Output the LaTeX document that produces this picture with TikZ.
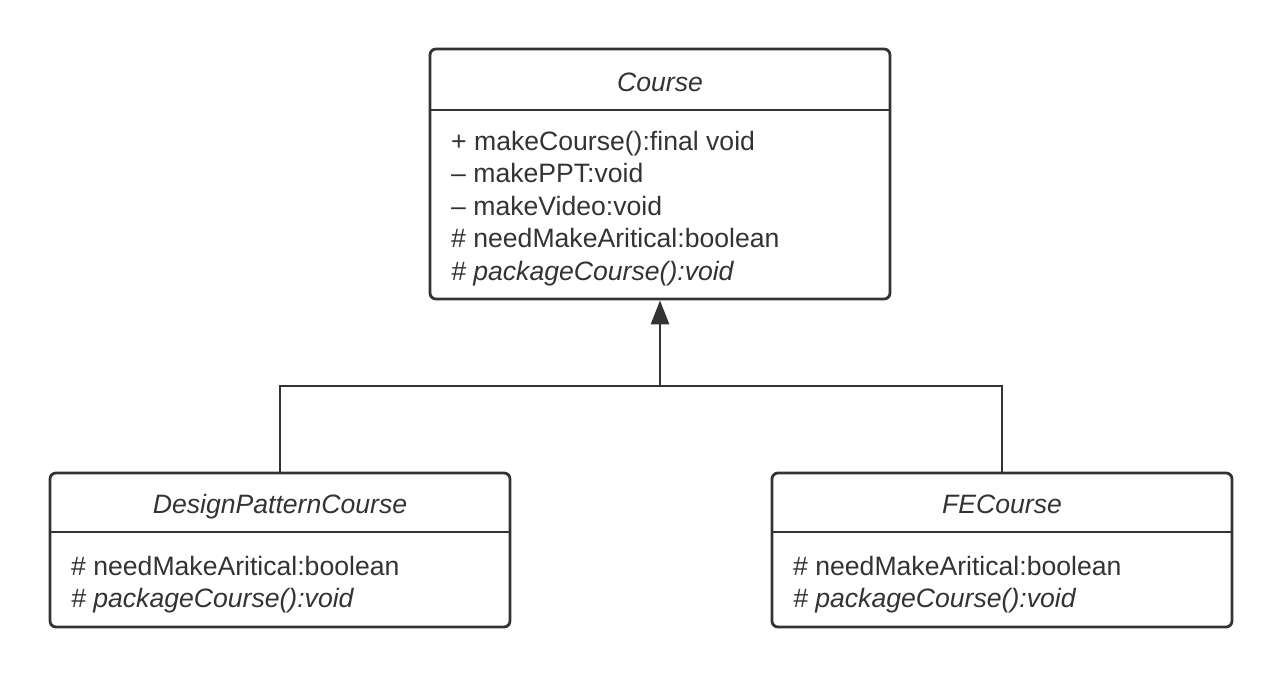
\documentclass[tikz,border=0pt]{standalone}
\usepackage{fontspec}
\setmainfont{Liberation Sans}
\usetikzlibrary{arrows.meta}
\definecolor{ink}{HTML}{333333}
\begin{document}
\begin{tikzpicture}[x=1pt,y=-1pt,
  classbox/.style={draw=ink, line width=2.8pt, rounded corners=6pt, inner sep=0pt},
  divider/.style={draw=ink, line width=2.8pt},
  member/.style={anchor=base west, inner sep=0pt, text=ink, font=\fontsize{26.6}{32}\selectfont},
  title/.style={anchor=base, inner sep=0pt, text=ink, font=\fontsize{26.6}{32}\selectfont\itshape},
  link/.style={draw=ink, line width=2.8pt}]
\useasboundingbox (0,0) rectangle (1282,677);
% Course
\node[classbox, minimum width=460pt, minimum height=250pt] (course) at (660,174) {};
\draw[divider] (course.west |- 0,110) -- (course.east |- 0,110);
\node[title] (ctitle) at (660,92) {Course};
\node[member] (c1) at (451,150) {+ makeCourse():final void};
\node[member] (c2) at (451,182.5) {\textendash{} makePPT:void};
\node[member] (c3) at (451,215) {\textendash{} makeVideo:void};
\node[member] (c4) at (451,247.5) {\# needMakeAritical:boolean};
\node[member] (c5) at (451,280) {\itshape\# packageCourse():void};
% DesignPatternCourse
\node[classbox, minimum width=460pt, minimum height=154pt] (dp) at (280,550) {};
\draw[divider] (dp.west |- 0,532) -- (dp.east |- 0,532);
\node[title] (dtitle) at (280,513) {DesignPatternCourse};
\node[member] (d1) at (71,575) {\# needMakeAritical:boolean};
\node[member] (d2) at (71,607) {\itshape\# packageCourse():void};
% FECourse
\node[classbox, minimum width=460pt, minimum height=154pt] (fe) at (1002,550) {};
\draw[divider] (fe.west |- 0,532) -- (fe.east |- 0,532);
\node[title] (ftitle) at (1002,513) {FECourse};
\node[member] (f1) at (793,575) {\# needMakeAritical:boolean};
\node[member] (f2) at (793,607) {\itshape\# packageCourse():void};
% connectors
\coordinate (j) at (660,386);
\draw[link] (dp.north) |- (j) -| (fe.north);
\draw[link, -{Triangle[width=18pt,length=24pt]}] (j) -- (course.south);
\end{tikzpicture}
\end{document}
